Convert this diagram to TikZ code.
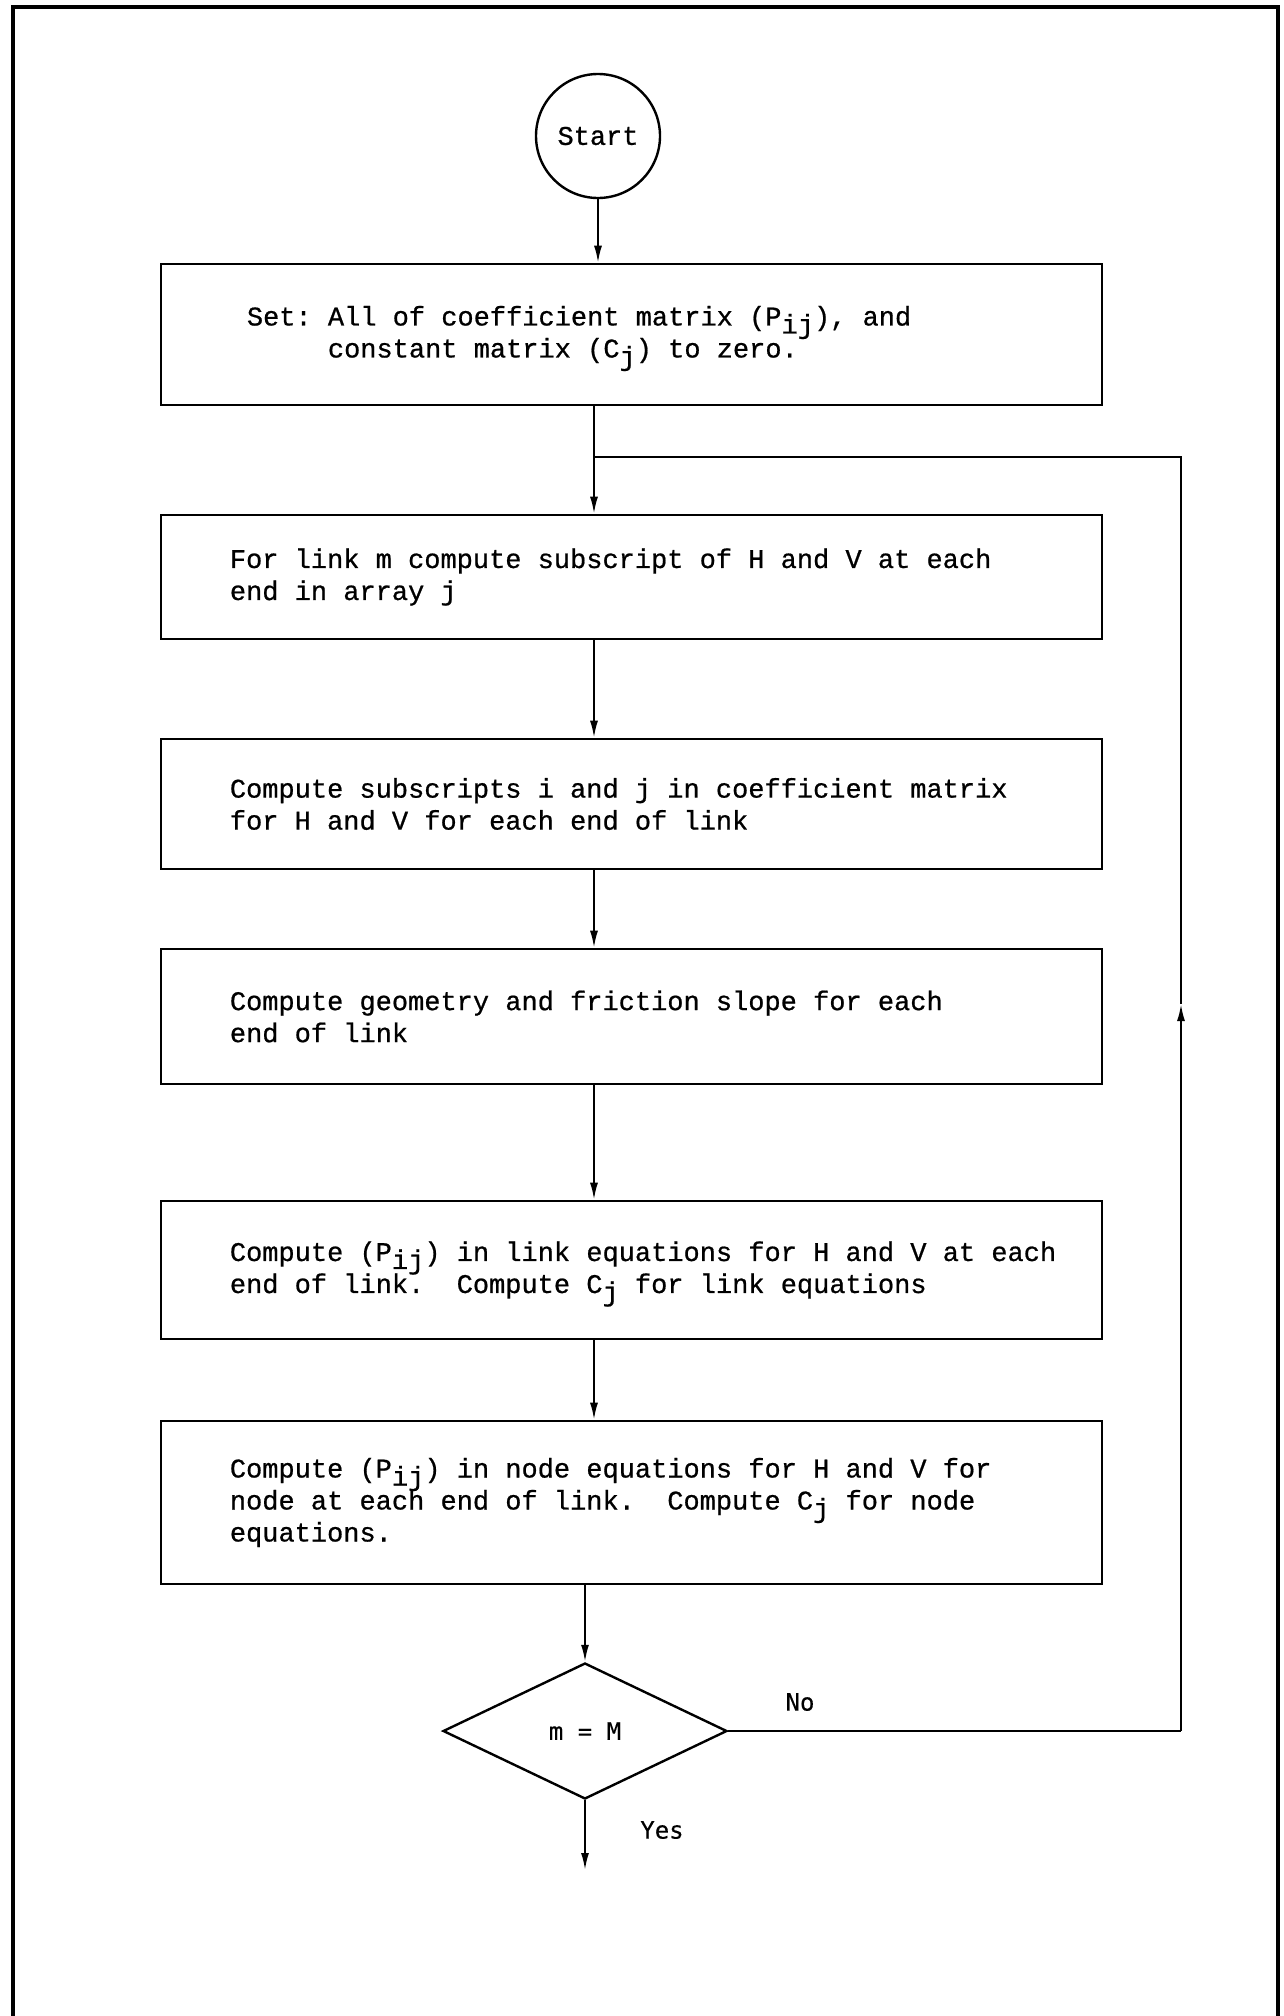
\documentclass[tikz,border=0pt]{standalone}
\usepackage{fontspec}
\newfontfamily\typefont{Liberation Mono}[FakeBold=0.7]
\newfontfamily\gothicfont{DejaVu Sans Mono}[FakeBold=0.3]
\usetikzlibrary{shapes.geometric,arrows.meta}

% lowered subscript in typewriter style
\newcommand{\lowsub}[1]{\smash{\raisebox{-8pt}{#1}}}

\begin{document}
\begin{tikzpicture}[x=1pt,y=-1pt,
  every node/.style={inner sep=0pt},
  procbox/.style={draw,rectangle,line width=2.6pt,minimum width=941pt},
  boxtext/.style={anchor=west,align=left,
    font=\fontsize{27}{32}\selectfont\typefont\frenchspacing},
  startcirc/.style={draw,circle,line width=2.4pt,minimum size=124pt,
    font=\fontsize{27}{32}\selectfont\typefont},
  decision/.style={draw,diamond,line width=2.4pt,minimum width=284pt,
    minimum height=136pt},
  lbl/.style={font=\fontsize{24}{28}\selectfont\gothicfont},
  link/.style={line width=2pt,line join=miter},
  flow/.style={link,-{Latex[length=17pt,width=8pt]}}
]
\useasboundingbox (0,0) rectangle (1284,2016);

% page frame, open at the bottom
\draw[line width=3.4pt,line join=miter] (13,2016) -- (13,7) -- (1278,7) -- (1278,2016);

% start terminal
\node[startcirc] (start) at (598,136) {Start};

% process boxes
\node[procbox,minimum height=141pt] (b1) at (631.5,334.5) {};
\node[boxtext] (t1) at ([xshift=87pt]b1.west)
  {Set: All of coefficient matrix (P\lowsub{ij}), and\\
   \phantom{Set: }constant matrix (C\lowsub{j}) to zero.};

\node[procbox,minimum height=124pt] (b2) at (631.5,577) {};
\node[boxtext] (t2) at ([xshift=70pt]b2.west)
  {For link m compute subscript of H and V at each\\
   end in array j};

\node[procbox,minimum height=130pt] (b3) at (631.5,804) {};
\node[boxtext] (t3) at ([xshift=70pt]b3.west)
  {Compute subscripts i and j in coefficient matrix\\
   for H and V for each end of link};

\node[procbox,minimum height=135pt] (b4) at (631.5,1016.5) {};
\node[boxtext] (t4) at ([xshift=70pt]b4.west)
  {Compute geometry and friction slope for each\\
   end of link};

\node[procbox,minimum height=138pt] (b5) at (631.5,1270) {};
\node[boxtext] (t5) at ([xshift=70pt]b5.west)
  {Compute (P\lowsub{ij}) in link equations for H and V at each\\
   end of link.\ \ Compute C\lowsub{j} for link equations};

\node[procbox,minimum height=163pt] (b6) at (631.5,1502.5) {};
\node[boxtext] (t6) at ([xshift=70pt]b6.west)
  {Compute (P\lowsub{ij}) in node equations for H and V for\\
   node at each end of link.\ \ Compute C\lowsub{j} for node\\
   equations.};

% decision
\node[decision,lbl] (dec) at (585,1731) {m = M};
\node[lbl] (no) at (800,1702) {No};
\node[lbl] (yes) at (662,1830) {Yes};

% helper points
\coordinate (spine) at (594,0);
\coordinate (join) at (594,457);
\coordinate (loopTR) at (1181,457);
\coordinate (loopBR) at (1181,1731);
\coordinate (loopmid) at (1181,1004);
\coordinate (exit) at (585,1870);

% main flow
\draw[flow] (start.south) -- (start.south |- b1.north);
\draw[flow] (b1.south -| spine) -- (b2.north -| spine);
\draw[flow] (b2.south -| spine) -- (b3.north -| spine);
\draw[flow] (b3.south -| spine) -- (b4.north -| spine);
\draw[flow] (b4.south -| spine) -- (b5.north -| spine);
\draw[flow] (b5.south -| spine) -- (b6.north -| spine);
\draw[flow] (b6.south -| dec.north) -- (dec.north);
\draw[flow] (dec.south) -- (exit);

% loop back when m < M
\draw[link] (dec.east) -- (loopBR);
\draw[flow] (loopBR) -- (loopmid);
\draw[link] (loopmid) -- (loopTR) -- (join);
\end{tikzpicture}
\end{document}
